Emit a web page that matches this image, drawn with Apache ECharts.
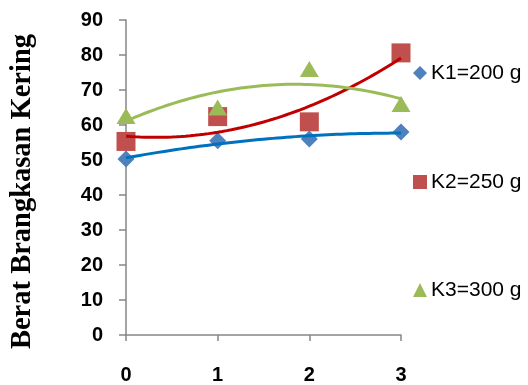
<!DOCTYPE html>
<html><head><meta charset="utf-8">
<script src="https://cdn.jsdelivr.net/npm/echarts@6/dist/echarts.min.js"></script>
<style>html,body{margin:0;padding:0;background:#fff}#c{width:528px;height:385px}</style>
</head><body><div id="c"></div>
<script>
var xValues = [0, 1, 2, 3];
var seriesNames = ['K1=200 g', 'K2=250 g', 'K3=300 g'];
var k1 = [50.3, 55.5, 56.0, 58.0];
var k2 = [55.3, 62.4, 60.9, 80.6];
var k3 = [62.6, 65.0, 76.0, 66.0];
var yTicks = [0, 10, 20, 30, 40, 50, 60, 70, 80, 90];
var yTitle = 'Berat Brangkasan Kering';

// Quadratic (order 2) least-squares trendline, as the original chart shows
function polyFit2(xs, ys) {
  var S = [0,0,0,0,0], T = [0,0,0];
  for (var i = 0; i < xs.length; i++) {
    var p = 1;
    for (var k = 0; k < 5; k++) { S[k] += p; if (k < 3) T[k] += p * ys[i]; p *= xs[i]; }
  }
  var A = [[S[0],S[1],S[2],T[0]],[S[1],S[2],S[3],T[1]],[S[2],S[3],S[4],T[2]]];
  for (var c = 0; c < 3; c++) {
    for (var r = c + 1; r < 3; r++) {
      var f = A[r][c] / A[c][c];
      for (var j = c; j < 4; j++) A[r][j] -= f * A[c][j];
    }
  }
  var b = [0,0,0];
  for (var r2 = 2; r2 >= 0; r2--) {
    var s = A[r2][3];
    for (var j2 = r2 + 1; j2 < 3; j2++) s -= A[r2][j2] * b[j2];
    b[r2] = s / A[r2][r2];
  }
  return b;
}
function trend(ys) {
  var b = polyFit2(xValues, ys), out = [];
  var x0 = xValues[0], x1 = xValues[xValues.length - 1];
  for (var i = 0; i <= 60; i++) {
    var x = x0 + (x1 - x0) * i / 60;
    out.push([x, b[0] + b[1] * x + b[2] * x * x]);
  }
  return out;
}
function pts(ys) { return xValues.map(function (x, i) { return [x, ys[i]]; }); }

var markerColors = ['#4F81BD', '#C0504D', '#9BBB59'];
var lineColors = ['#0070C0', '#C00000', '#9BBB59'];
var symbols = ['diamond', 'rect', 'triangle'];
var sizes = [[17, 17], [19, 19], [19, 16]];
var data = [k1, k2, k3];

var series = [];
data.forEach(function (d, i) {
  series.push({
    name: seriesNames[i], type: 'scatter', data: pts(d),
    symbol: symbols[i], symbolSize: sizes[i],
    itemStyle: { color: markerColors[i], opacity: 1 }, z: 2
  });
});
data.forEach(function (d, i) {
  series.push({
    name: seriesNames[i] + ' trend', type: 'line', data: trend(d),
    showSymbol: false, symbol: 'none', smooth: false,
    lineStyle: { color: lineColors[i], width: 3 }, z: 3, silent: true
  });
});

var legendTops = [61, 170, 278];
var legends = seriesNames.map(function (n, i) {
  return {
    data: [{ name: n, icon: symbols[i] }], left: 413, top: legendTops[i], padding: 0,
    itemWidth: 14, itemHeight: 14, itemGap: 0,
    textStyle: { fontFamily: 'Liberation Sans', fontSize: 21, color: '#000', lineHeight: 24, padding: [0,0,0,-1] }
  };
});

var chart = echarts.init(document.getElementById('c'), null, { renderer: 'canvas' });
chart.setOption({
  animation: false,
  backgroundColor: '#fff',
  legend: legends,
  grid: { left: 126, right: 127, top: 20, bottom: 49, containLabel: false },
  xAxis: {
    type: 'value', min: 0, max: 3, interval: 1,
    axisLine: { show: true, onZero: false, lineStyle: { color: '#868686', width: 1.5 } },
    axisTick: { show: true, length: 6, lineStyle: { color: '#868686', width: 1.5 } },
    splitLine: { show: false },
    axisLabel: { margin: 30, fontFamily: 'Liberation Sans', fontWeight: 'bold', fontSize: 20, color: '#000' }
  },
  yAxis: {
    type: 'value', min: yTicks[0], max: yTicks[yTicks.length - 1], interval: 10,
    name: yTitle, nameLocation: 'middle', nameGap: 89, nameRotate: 90,
    nameTextStyle: { fontFamily: 'Liberation Serif', fontWeight: 'bold', fontSize: 28.5, color: '#000', padding: [0, 28, 0, 0] },
    axisLine: { show: true, lineStyle: { color: '#868686', width: 1.5 } },
    axisTick: { show: true, length: 7, lineStyle: { color: '#868686', width: 1.5 } },
    splitLine: { show: false },
    axisLabel: { margin: 23, fontFamily: 'Liberation Sans', fontWeight: 'bold', fontSize: 20, color: '#000' }
  },
  series: series
});
</script></body></html>
